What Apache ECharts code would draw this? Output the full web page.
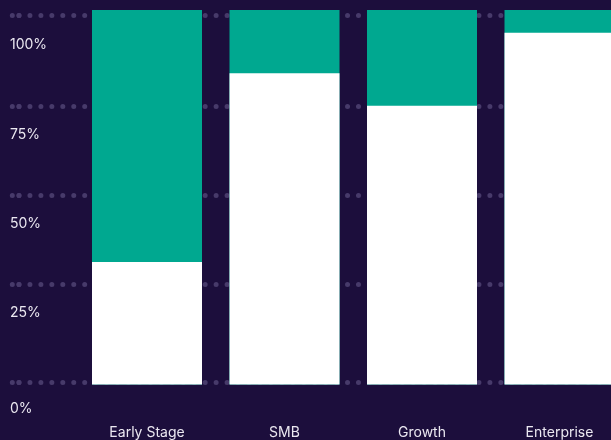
<!DOCTYPE html>
<html>
<head>
<meta charset="utf-8">
<script src="https://cdn.jsdelivr.net/npm/echarts@6/dist/echarts.min.js"></script>
<style>
  html, body { margin: 0; padding: 0; background: #1c0e3c; }
  #chart { width: 611px; height: 440px; }
</style>
</head>
<body>
<div id="chart"></div>
<script>
// Share of each segment (percent), stacked to 100
const categories = ['Early Stage', 'SMB', 'Growth', 'Enterprise'];
const baseShare = [32.7, 83.1, 74.4, 93.9];
const topShare = [67.3, 16.9, 25.6, 6.1];
const tickLabels = ['0%', '25%', '50%', '75%', '100%'];

// Heights (in the 0-100 scale) where the dotted guide rows sit
const guideRows = [0.5, 26.8, 50.6, 74.4, 98.5];

const BG = '#1c0e3c';
const DOT = '#473a6a';
const TEXT = '#ebe8f1';
const TEAL = '#00a890';
const FONT = 'Inter, "Noto Sans", sans-serif';

// Column slots sit at 0..n-1 on the x scale; the last column is cut by the right edge
const slots = categories.map(function (_, i) { return i; });

// The teal segment sits on top of the white one: its bar reaches base + top,
// and the white bar is painted over its lower part.
const stackTop = baseShare.map(function (v, i) { return v + topShare[i]; });

const chart = echarts.init(document.getElementById('chart'), null, { renderer: 'canvas' });

chart.setOption({
  backgroundColor: BG,
  animation: false,
  grid: [
    { left: 78.25, right: 0, top: 10, bottom: 55.5, containLabel: false },
    { left: 19, right: 0, top: 10, bottom: 55.5, containLabel: false }
  ],
  xAxis: [
    {
      type: 'value',
      gridIndex: 0,
      min: -0.5,
      max: 3.3745,
      axisLine: { show: false },
      axisTick: { show: false },
      splitLine: { show: false },
      axisLabel: {
        customValues: slots,
        formatter: function (v) { return categories[v] || ''; },
        color: TEXT,
        fontFamily: FONT,
        fontSize: 14,
        margin: 41,
        showMinLabel: true,
        showMaxLabel: true
      }
    },
    {
      type: 'value',
      gridIndex: 1,
      min: 0,
      max: 1,
      show: false
    }
  ],
  yAxis: [
    {
      type: 'value',
      gridIndex: 0,
      min: 0,
      max: 100,
      show: false,
      splitLine: { show: false }
    },
    {
      type: 'value',
      gridIndex: 1,
      min: 0,
      max: 100,
      axisLine: { show: false },
      axisTick: {
        show: true,
        customValues: guideRows,
        length: 7,
        lineStyle: { color: DOT, width: 5, cap: 'round', type: [0.001, 6.7, 0.001, 100] }
      },
      splitLine: {
        show: true,
        lineStyle: { color: DOT, width: 5, cap: 'round', type: [0.001, 10.95] }
      },
      axisLabel: {
        customValues: guideRows,
        formatter: function (v) {
          const i = guideRows.indexOf(v);
          if (i < 0) return '';
          return (i === 0 ? '{low|' : '{std|') + tickLabels[i] + '}';
        },
        color: TEXT,
        fontFamily: FONT,
        fontSize: 14,
        align: 'left',
        verticalAlign: 'top',
        margin: 9,
        rich: {
          std: { color: TEXT, fontFamily: FONT, fontSize: 14, lineHeight: 58 },
          low: { color: TEXT, fontFamily: FONT, fontSize: 14, lineHeight: 52 }
        }
      }
    }
  ],
  series: [
    {
      name: 'top',
      type: 'bar',
      xAxisIndex: 0,
      yAxisIndex: 0,
      data: stackTop.map(function (v, i) { return [slots[i], v]; }),
      barWidth: 110,
      barGap: '-100%',
      itemStyle: { color: TEAL },
      z: 3
    },
    {
      name: 'base',
      type: 'bar',
      xAxisIndex: 0,
      yAxisIndex: 0,
      data: baseShare.map(function (v, i) { return [slots[i], v]; }),
      barWidth: 110,
      barGap: '-100%',
      itemStyle: { color: '#ffffff' },
      z: 4
    }
  ]
});
</script>
</body>
</html>
